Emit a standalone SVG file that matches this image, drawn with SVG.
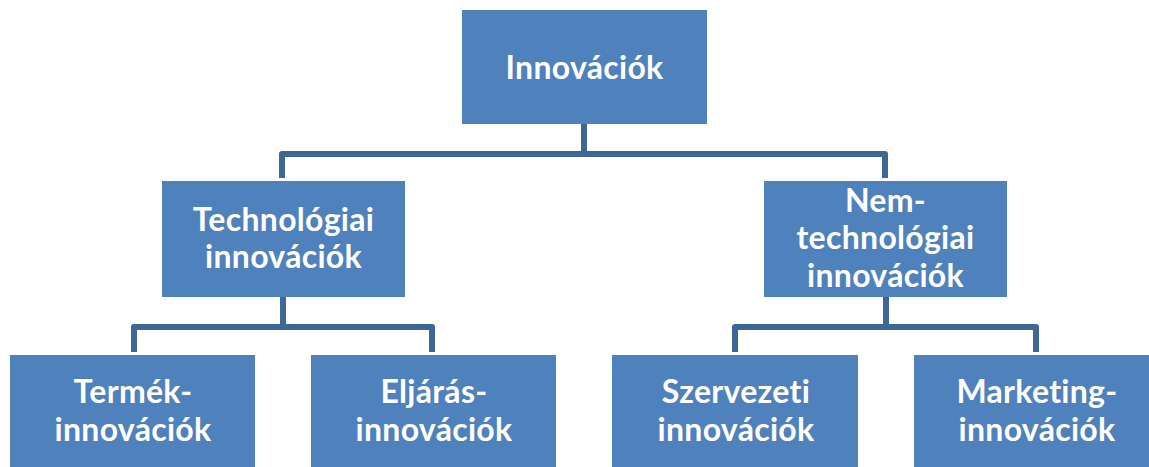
<svg xmlns="http://www.w3.org/2000/svg" width="1149" height="467" viewBox="0 0 1149 467">
<style>
.box{fill:#4F81BD;}
.lbl{font-family:Lato,"Open Sans","Liberation Sans",sans-serif;font-weight:bold;font-size:32px;letter-spacing:0.3px;fill:#FFFFFF;text-anchor:middle;}
.con{fill:none;stroke:#3D6796;stroke-width:6;stroke-linejoin:round;}
</style>
<rect width="1149" height="467" fill="#FFFFFF"/>
<g id="connectors">
<path class="con" d="M584,124 V154 M282,178 V154 H885 V178"/>
<path class="con" d="M283,297 V327 M134,352 V327 H432 V352"/>
<path class="con" d="M886,297 V327 M735,352 V327 H1036 V352"/>
</g>
<g id="n-innovaciok">
<rect class="box" x="462" y="10" width="245" height="114"/>
<text class="lbl" x="584.5" y="79">Innovációk</text>
</g>
<g id="n-technologiai">
<rect class="box" x="162" y="181" width="243" height="116"/>
<text class="lbl" x="283.5" y="231">Technológiai</text>
<text class="lbl" x="283.5" y="268">innovációk</text>
</g>
<g id="n-nemtechnologiai">
<rect class="box" x="764" y="181" width="243" height="116"/>
<text class="lbl" x="885.5" y="212">Nem-</text>
<text class="lbl" x="885.5" y="249">technológiai</text>
<text class="lbl" x="885.5" y="287">innovációk</text>
</g>
<g id="n-termek">
<rect class="box" x="10" y="355" width="245" height="112"/>
<text class="lbl" x="133" y="403">Termék-</text>
<text class="lbl" x="133" y="441">innovációk</text>
</g>
<g id="n-eljaras">
<rect class="box" x="311" y="355" width="245" height="112"/>
<text class="lbl" x="434" y="403">Eljárás-</text>
<text class="lbl" x="434" y="441">innovációk</text>
</g>
<g id="n-szervezeti">
<rect class="box" x="612" y="355" width="246" height="112"/>
<text class="lbl" x="736" y="403">Szervezeti</text>
<text class="lbl" x="736" y="441">innovációk</text>
</g>
<g id="n-marketing">
<rect class="box" x="914" y="355" width="235" height="112"/>
<text class="lbl" x="1037" y="403">Marketing-</text>
<text class="lbl" x="1037" y="441">innovációk</text>
</g>
</svg>
